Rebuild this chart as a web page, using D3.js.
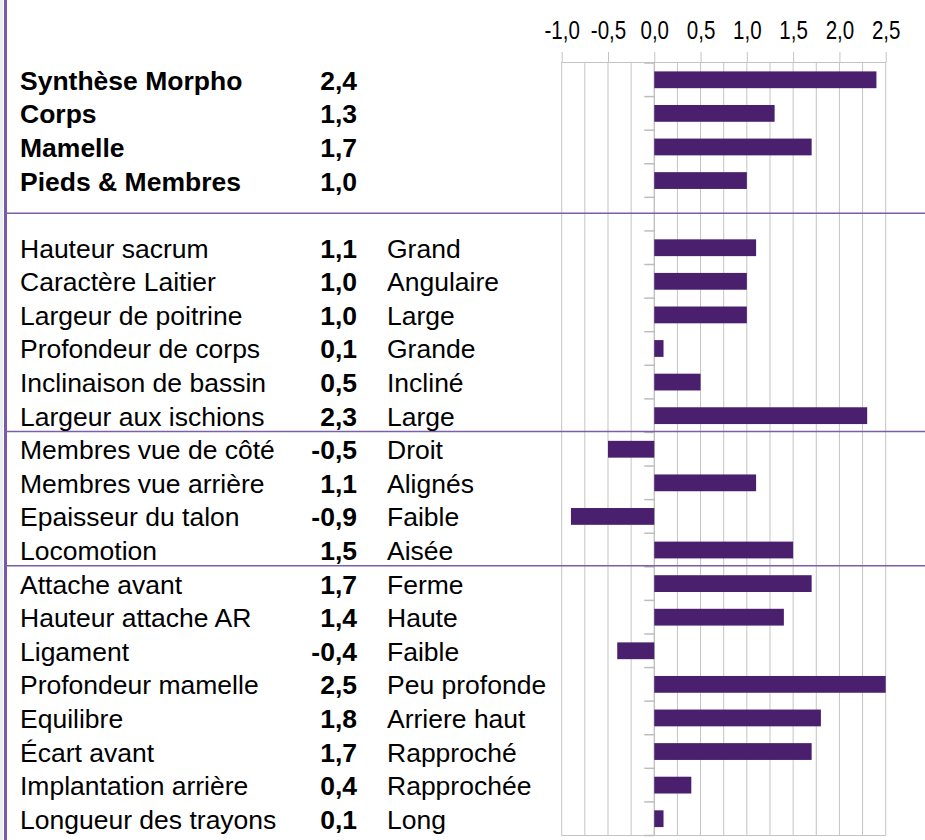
<!DOCTYPE html>
<html>
 <head>
    <meta charset="utf-8">
    <style>
        body {margin: 0; background: #ffffff;}
        svg {display: block;}
        .lbl {font-family: "Liberation Sans", Arial, sans-serif; font-size: 26.5px; fill: #000;}
        .tick-lbl {font-family: "Liberation Sans", Arial, sans-serif; font-size: 26px; fill: #000;}
    </style>
    <script src="https://cdn.jsdelivr.net/npm/d3@7"></script>
 </head>
 <body>
    <div id="chart"></div>
    <script type="text/javascript">
        // rows of the table, an empty label is the blank spacer row
        const labels = ["Synthèse Morpho", "Corps", "Mamelle", "Pieds & Membres", "",
            "Hauteur sacrum", "Caractère Laitier", "Largeur de poitrine", "Profondeur de corps",
            "Inclinaison de bassin", "Largeur aux ischions", "Membres vue de côté",
            "Membres vue arrière", "Epaisseur du talon", "Locomotion", "Attache avant",
            "Hauteur attache AR", "Ligament", "Profondeur mamelle", "Equilibre", "Écart avant",
            "Implantation arrière", "Longueur des trayons"];
        const values = [2.4, 1.3, 1.7, 1.0, null,
            1.1, 1.0, 1.0, 0.1, 0.5, 2.3, -0.5, 1.1, -0.9, 1.5,
            1.7, 1.4, -0.4, 2.5, 1.8, 1.7, 0.4, 0.1];
        const descriptors = ["", "", "", "", "",
            "Grand", "Angulaire", "Large", "Grande", "Incliné", "Large", "Droit", "Alignés",
            "Faible", "Aisée", "Ferme", "Haute", "Faible", "Peu profonde", "Arriere haut",
            "Rapproché", "Rapprochée", "Long"];
        const boldRows = 4;
        const xTicks = [-1, -0.5, 0, 0.5, 1, 1.5, 2, 2.5];
        const separators = [4.5, 11, 15]; // in row units

        const W = 925, H = 840;
        const plotTop = 63, plotBottom = 835.5;
        const fmt = v => d3.format(".1f")(v).replace(".", ",").replace("−", "-");

        const svg = d3.select("#chart").append("svg").attr("width", W).attr("height", H);

        const x = d3.scaleLinear().domain([-1, 2.5]).range([561.7, 885.7]);
        const y = d3.scaleBand().domain(d3.range(labels.length)).range([plotTop, plotBottom])
            .paddingInner(0.5).paddingOuter(0.25);
        const rowY = d3.scaleLinear().domain([0, labels.length]).range([plotTop, plotBottom]);

        // left border
        svg.append("rect").attr("x", 0).attr("y", 0).attr("width", 3).attr("height", H).attr("fill", "#eaeff4");
        svg.append("rect").attr("x", 4).attr("y", 0).attr("width", 3).attr("height", H).attr("fill", "#7b59a8");

        // vertical gridlines every 0.25
        const grid = d3.range(-1, 2.51, 0.25);
        svg.append("g").selectAll("line").data(grid).join("line")
            .attr("x1", d => x(d)).attr("x2", d => x(d))
            .attr("y1", plotTop - 1).attr("y2", plotBottom)
            .attr("stroke", "#c4c4c4").attr("stroke-width", 1);

        // top axis
        const xAxis = svg.append("g").attr("transform", `translate(0,${plotTop - 1})`)
            .call(d3.axisTop(x).tickValues(xTicks).tickSize(10).tickSizeOuter(0).tickFormat(fmt));
        xAxis.attr("font-family", null).attr("font-size", null);
        xAxis.select(".domain").attr("stroke", "#c4c4c4");
        xAxis.selectAll(".tick line").attr("stroke", "#c4c4c4");
        // narrow look: squeeze the labels horizontally around the tick
        xAxis.selectAll(".tick text").attr("class", "tick-lbl").attr("y", -23).attr("dy", null)
            .attr("transform", "scale(0.79,1)");

        // bottom line
        svg.append("line").attr("x1", x(-1)).attr("x2", x(2.5))
            .attr("y1", plotBottom).attr("y2", plotBottom).attr("stroke", "#c4c4c4");

        // zero axis with ticks at row boundaries
        const bounds = d3.range(labels.length + 1);
        svg.append("line").attr("x1", x(0)).attr("x2", x(0)).attr("y1", plotTop - 1).attr("y2", plotBottom)
            .attr("stroke", "#bdbdbd");
        svg.append("g").selectAll("line").data(bounds).join("line")
            .attr("x1", x(0) - 10).attr("x2", x(0))
            .attr("y1", d => rowY(d)).attr("y2", d => rowY(d))
            .attr("stroke", "#bdbdbd").attr("stroke-width", 1.5);

        // bars
        const rows = d3.range(labels.length).filter(i => values[i] !== null);
        svg.append("g").selectAll("rect").data(rows).join("rect")
            .attr("x", i => x(Math.min(0, values[i])))
            .attr("width", i => Math.abs(x(values[i]) - x(0)))
            .attr("y", i => y(i))
            .attr("height", y.bandwidth())
            .attr("fill", "#4a1f6e");

        // separators
        svg.append("g").selectAll("line").data(separators).join("line")
            .attr("x1", 4).attr("x2", W)
            .attr("y1", d => rowY(d) - 1).attr("y2", d => rowY(d) - 1)
            .attr("stroke", "#7b5fa8").attr("stroke-width", 1.5);

        // text columns
        const textY = i => y(i) + y.bandwidth() / 2 + 10;
        const txt = svg.append("g");
        txt.selectAll("text.name").data(rows).join("text")
            .attr("class", "lbl name")
            .attr("x", 20).attr("y", textY)
            .attr("font-weight", i => i < boldRows ? "bold" : "normal")
            .text(i => labels[i]);
        txt.selectAll("text.val").data(rows).join("text")
            .attr("class", "lbl val")
            .attr("x", 357).attr("y", textY)
            .attr("text-anchor", "end").attr("font-weight", "bold")
            .text(i => fmt(values[i]));
        txt.selectAll("text.desc").data(rows.filter(i => descriptors[i] !== "")).join("text")
            .attr("class", "lbl desc")
            .attr("x", 387).attr("y", textY)
            .text(i => descriptors[i]);
    </script>
 </body>
</html>
